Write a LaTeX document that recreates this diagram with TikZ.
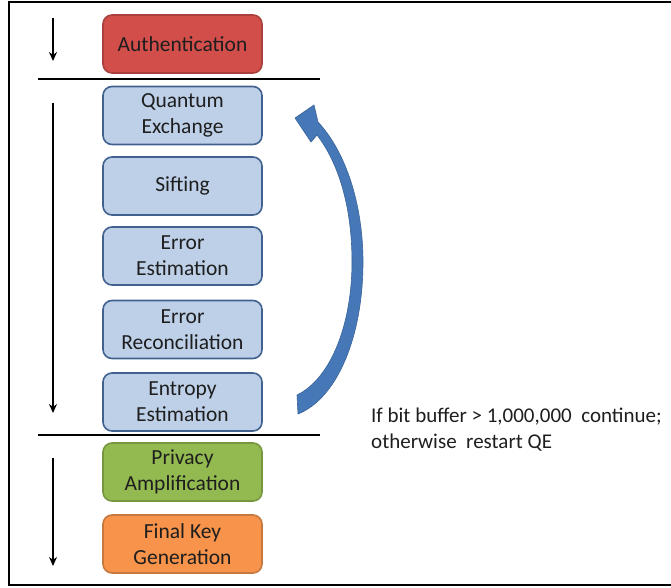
\documentclass[tikz,border=0pt]{standalone}
\usepackage{fontspec}
\setmainfont{Carlito}
\usetikzlibrary{arrows.meta}
\definecolor{txt}{HTML}{1E1E1E}
\definecolor{bluefill}{HTML}{BDD0E8}
\definecolor{blueedge}{HTML}{41618F}
\definecolor{redfill}{HTML}{D24E4B}
\definecolor{rededge}{HTML}{A8403D}
\definecolor{greenfill}{HTML}{93BA50}
\definecolor{greenedge}{HTML}{76963F}
\definecolor{orangefill}{HTML}{F7934A}
\definecolor{orangeedge}{HTML}{C6793E}
\definecolor{loopfill}{HTML}{4678B8}
\definecolor{loopedge}{HTML}{3A6399}
\begin{document}
\begin{tikzpicture}[x=1pt,y=-1pt,
  stage/.style={draw, line width=1.6pt, rounded corners=9pt, minimum width=159pt,
    minimum height=58pt, align=center, text=txt, font=\fontsize{21.5}{26}\selectfont,
    inner sep=0pt},
  qstage/.style={stage, fill=bluefill, draw=blueedge},
  flow/.style={line width=1.8pt, -{Stealth[length=9pt,width=8pt]}},
  divider/.style={line width=1.2pt}]
\useasboundingbox (0,0) rectangle (671,588);
% outer frame, open past the right edge
\begin{scope}
\clip (0,0) rectangle (671,588);
\draw[line width=2.2pt] (9,2) rectangle (700,585);
\end{scope}

% stages
\node[stage, fill=redfill, draw=rededge] (auth) at (182.5,44) {Authentication};
\node[qstage] (qe) at (182.5,115.5) {Quantum\\Exchange};
\node[qstage] (sift) at (182.5,186) {Sifting};
\node[qstage] (ee) at (182.5,256) {Error\\Estimation};
\node[qstage] (er) at (182.5,329.5) {Error\\Reconciliation};
\node[qstage] (ent) at (182.5,402) {Entropy\\Estimation};
\node[stage, fill=greenfill, draw=greenedge] (pa) at (182.5,472) {Privacy\\Amplification};
\node[stage, fill=orangefill, draw=orangeedge] (fk) at (182.5,544) {Final Key\\Generation};

% phase dividers
\coordinate (d1a) at (38,79);  \coordinate (d1b) at (320,79);
\coordinate (d2a) at (38,435); \coordinate (d2b) at (320,435);
\draw[divider] (d1a) -- (d1b);
\draw[divider] (d2a) -- (d2b);

% phase flow arrows
\coordinate (a1s) at (53,18);  \coordinate (a1e) at (53,61);
\coordinate (a2s) at (53,103); \coordinate (a2e) at (53,413);
\coordinate (a3s) at (53,458); \coordinate (a3e) at (53,566);
\draw[flow] (a1s) -- (a1e);
\draw[flow] (a2s) -- (a2e);
\draw[flow] (a3s) -- (a3e);

% curved loop-back arrow from entropy estimation to quantum exchange
\filldraw[fill=loopfill, draw=loopedge, line width=0.6pt, line join=round]
  (298,414) .. controls (338,398) and (363,335) .. (363,262)
  .. controls (363,205) and (346,152) .. (318,122)
  -- (314,105) -- (295,118) -- (311,142) -- (317,135)
  .. controls (340,165) and (352,210) .. (352,262)
  .. controls (352,322) and (332,378) .. (297,395) -- cycle;

% loop condition
\node[anchor=north west, align=left, text=txt, font=\fontsize{21}{26}\selectfont,
  inner sep=0pt] (cond) at (371,408)
  {If bit buffer > 1,000,000 \ continue;\\otherwise \ restart QE};
\end{tikzpicture}
\end{document}
